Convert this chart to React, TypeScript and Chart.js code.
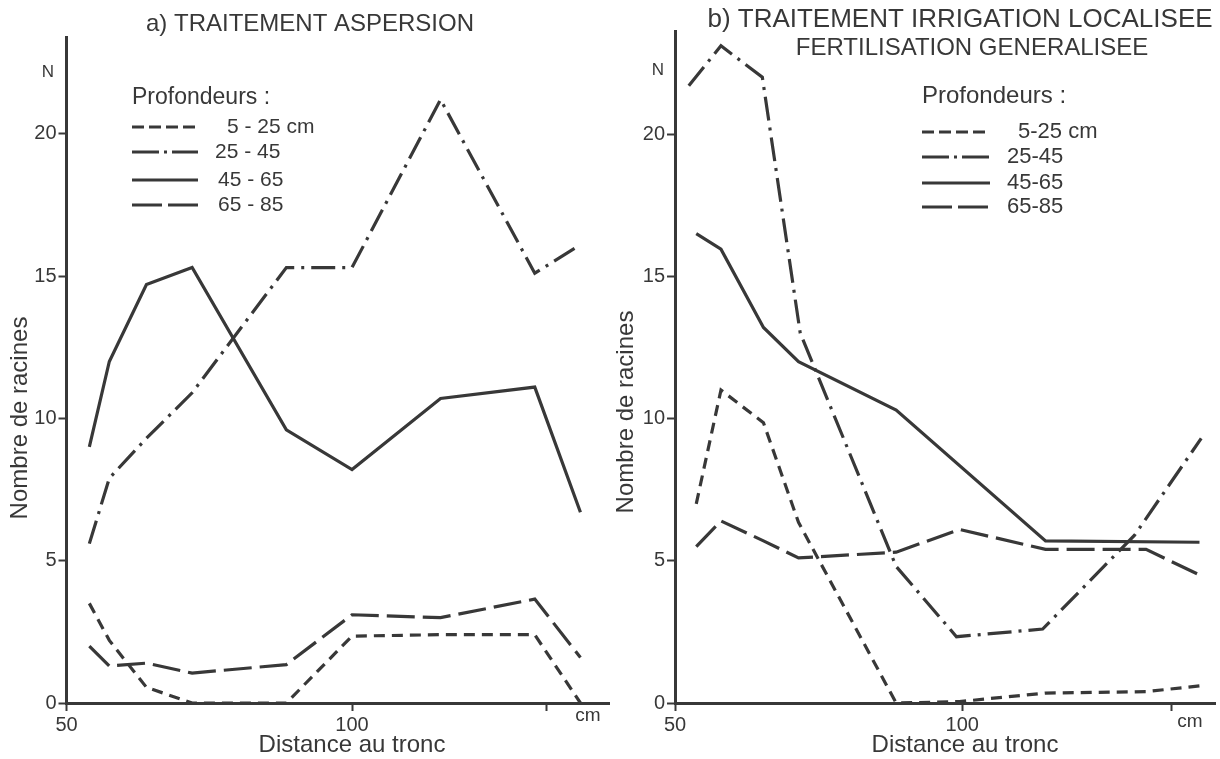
import React, { useEffect, useRef } from 'react';
import { Chart, registerables } from 'chart.js';

Chart.register(...registerables);

const FONT = '"Liberation Sans", Arial, sans-serif';
const INK = '#383838';

// ---- shared axis data ----
const yTicks = [0, 5, 10, 15, 20];
const xTicksA = [50, 100, 134];
const xTicksB = [50, 100, 136.5];
const xTickLabels = ['50', '100', ''];
const depthLabelsA = ['5 - 25 cm', '25 - 45', '45 - 65', '65 - 85'];
const depthLabelsB = ['5-25 cm', '25-45', '45-65', '65-85'];

// ---- a) TRAITEMENT ASPERSION ----
const distA = [54, 57.5, 64, 72, 88.5, 100, 115.5, 132, 140];
const a_5_25 = [3.5, 2.2, 0.55, 0, 0, 2.35, 2.4, 2.4, 0];
const a_25_45 = [5.6, 7.9, 9.3, 10.9, 15.3, 15.3, 21.2, 15.1, 16.1];
const a_45_65 = [9.0, 12.0, 14.7, 15.3, 9.6, 8.2, 10.7, 11.1, 6.7];
const a_65_85 = [2.0, 1.3, 1.4, 1.05, 1.35, 3.1, 3.0, 3.65, 1.6];

// ---- b) TRAITEMENT IRRIGATION LOCALISEE ----
const distB = [53.7, 58, 65.4, 71.5, 88.5, 99.5, 114.5, 132, 141.3];
const distB_25_45 = [52.4, 58, 65.2, 71.8, 88.5, 99, 114, 130, 141.6];
const b_5_25 = [7.0, 11.0, 9.85, 6.35, 0, 0.05, 0.35, 0.4, 0.6];
const b_25_45 = [21.7, 23.1, 22.0, 13.0, 4.8, 2.33, 2.6, 5.9, 9.3];
const b_45_65 = [16.5, 15.95, 13.2, 12.0, 10.3, null, 5.7, null, 5.65];
const b_65_85 = [5.5, 6.4, 5.7, 5.1, 5.3, 6.1, 5.4, 5.4, 4.5];

const seriesDash = [[11, 7], [24, 7, 3, 7], [], [28, 8]];
const legendDash = [[12, 5], [27, 5, 3, 5], [], [30, 6]];

type Panel = {
  xMax: number; yMax: number; yAxisWidth: number; padTop: number; padRight: number;
  xTicks: number[];
  series: { x: number[]; y: (number | null)[] }[];
  labels: string[];
  titleLines: string[]; titleX: number[]; titleY: number[]; titleSize: number[];
  nX: number; nY: number; yTitleX: number; yTitleY: number; xTitleX: number; xTitleY: number;
  cmX: number; cmY: number;
  legX: number; legTitleY: number; legTitleSize: number; legLabelSize: number;
  legRows: number[]; legLineW: number; legLabelX: number[];
};

const panelA: Panel = {
  xMax: 145, yMax: 23.4, yAxisWidth: 66.5, padTop: 37, padRight: 1,
  xTicks: xTicksA,
  series: [
    { x: distA, y: a_5_25 },
    { x: distA, y: a_25_45 },
    { x: distA, y: a_45_65 },
    { x: distA, y: a_65_85 },
  ],
  labels: depthLabelsA,
  titleLines: ['a) TRAITEMENT ASPERSION'], titleX: [310], titleY: [24], titleSize: [24],
  nX: 48, nY: 72, yTitleX: 20, yTitleY: 418, xTitleX: 352, xTitleY: 745,
  cmX: 588, cmY: 716,
  legX: 132, legTitleY: 98, legTitleSize: 23, legLabelSize: 21,
  legRows: [127, 152, 180, 205], legLineW: 66, legLabelX: [227, 215, 218, 218],
};

const panelB: Panel = {
  xMax: 144, yMax: 23.6, yAxisWidth: 65, padTop: 31.6, padRight: 5,
  xTicks: xTicksB,
  series: [
    { x: distB, y: b_5_25 },
    { x: distB_25_45, y: b_25_45 },
    { x: distB, y: b_45_65 },
    { x: distB, y: b_65_85 },
  ],
  labels: depthLabelsB,
  titleLines: ['b) TRAITEMENT IRRIGATION LOCALISEE', 'FERTILISATION GENERALISEE'],
  titleX: [350, 362], titleY: [20, 48], titleSize: [26, 24],
  nX: 48, nY: 70, yTitleX: 16, yTitleY: 412, xTitleX: 355, xTitleY: 745,
  cmX: 580, cmY: 722,
  legX: 312, legTitleY: 96, legTitleSize: 24, legLabelSize: 22,
  legRows: [132, 157, 183, 207], legLineW: 68, legLabelX: [408, 397, 397, 397],
};

function textPlugin(p: Panel) {
  return {
    id: 'panelTexts',
    afterDraw(chart: any) {
      const ctx = chart.ctx as CanvasRenderingContext2D;
      ctx.save();
      ctx.fillStyle = INK;
      ctx.strokeStyle = INK;
      ctx.textBaseline = 'middle';
      // title
      ctx.textAlign = 'center';
      p.titleLines.forEach((t, i) => {
        ctx.font = `${p.titleSize[i]}px ${FONT}`;
        ctx.fillText(t, p.titleX[i], p.titleY[i]);
      });
      // N
      ctx.font = `17px ${FONT}`;
      ctx.fillText('N', p.nX, p.nY);
      // axis titles
      ctx.font = `24px ${FONT}`;
      ctx.fillText('Distance au tronc', p.xTitleX, p.xTitleY);
      ctx.save();
      ctx.translate(p.yTitleX, p.yTitleY);
      ctx.rotate(-Math.PI / 2);
      ctx.fillText('Nombre de racines', 0, 0);
      ctx.restore();
      // cm
      ctx.font = `19px ${FONT}`;
      ctx.fillText('cm', p.cmX, p.cmY);
      // legend
      ctx.textAlign = 'left';
      ctx.font = `${p.legTitleSize}px ${FONT}`;
      ctx.fillText('Profondeurs :', p.legX, p.legTitleY);
      ctx.font = `${p.legLabelSize}px ${FONT}`;
      p.legRows.forEach((y, i) => {
        ctx.beginPath();
        ctx.setLineDash(legendDash[i]);
        ctx.lineWidth = 3;
        ctx.moveTo(p.legX, y);
        ctx.lineTo(p.legX + p.legLineW, y);
        ctx.stroke();
        ctx.setLineDash([]);
        ctx.fillText(p.labels[i], p.legLabelX[i], y);
      });
      ctx.restore();
    },
  };
}

function PanelChart({ p }: { p: Panel }) {
  const ref = useRef<HTMLCanvasElement>(null);
  useEffect(() => {
    const chart = new Chart(ref.current as HTMLCanvasElement, {
      type: 'line',
      data: {
        datasets: p.series.map((s, i) => ({
          label: p.labels[i],
          data: s.x.map((x, j) => ({ x, y: s.y[j] })),
          borderColor: INK,
          borderWidth: 3.2,
          borderDash: seriesDash[i],
          borderCapStyle: 'butt',
          borderJoinStyle: 'miter',
          pointRadius: 0,
          fill: false,
          tension: 0,
          spanGaps: true,
        })) as any,
      },
      options: {
        responsive: false,
        animation: false,
        layout: { padding: { left: 0, right: p.padRight, top: p.padTop, bottom: 0 } },
        plugins: { legend: { display: false }, tooltip: { enabled: false }, title: { display: false } },
        scales: {
          x: {
            type: 'linear',
            min: 50,
            max: p.xMax,
            afterBuildTicks: (s: any) => { s.ticks = p.xTicks.map((v) => ({ value: v })); },
            afterFit: (s: any) => { s.height = 56; },
            ticks: {
              callback: (_v: any, i: number) => xTickLabels[i] ?? '',
              font: { family: FONT, size: 20 },
              color: INK,
              padding: 2,
              maxRotation: 0,
              autoSkip: false,
            },
            grid: { drawOnChartArea: false, drawTicks: true, tickLength: 8, tickWidth: 2, tickColor: INK },
            border: { display: true, color: INK, width: 3 },
          },
          y: {
            type: 'linear',
            min: 0,
            max: p.yMax,
            afterBuildTicks: (s: any) => { s.ticks = yTicks.map((v) => ({ value: v })); },
            afterFit: (s: any) => { s.width = p.yAxisWidth; },
            ticks: {
              callback: (v: any) => String(v),
              font: { family: FONT, size: 20 },
              color: INK,
              padding: 2,
              autoSkip: false,
            },
            grid: { drawOnChartArea: false, drawTicks: true, tickLength: 8, tickWidth: 2, tickColor: INK },
            border: { display: true, color: INK, width: 3 },
          },
        },
      } as any,
      plugins: [textPlugin(p)],
    });
    return () => chart.destroy();
  }, [p]);
  return <canvas ref={ref} width={610} height={759} style={{ display: 'block', width: 610, height: 759 }} />;
}

export default function App() {
  return (
    <div style={{ position: 'absolute', left: 0, top: 0, width: 1220, height: 759, background: '#fff', overflow: 'hidden' }}>
      <div style={{ position: 'absolute', left: 0, top: 0 }}>
        <PanelChart p={panelA} />
      </div>
      <div style={{ position: 'absolute', left: 610, top: 0 }}>
        <PanelChart p={panelB} />
      </div>
    </div>
  );
}
